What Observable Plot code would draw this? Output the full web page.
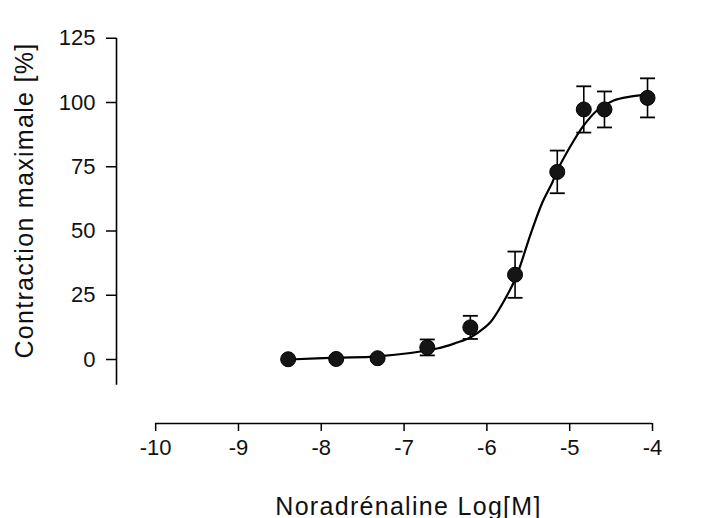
<!DOCTYPE html>
<html>
<head>
<meta charset="utf-8">
<script src="https://cdn.jsdelivr.net/npm/d3@7"></script>
<script src="https://cdn.jsdelivr.net/npm/@observablehq/plot@0.6"></script>
<style>
  html, body { margin: 0; padding: 0; background: #fff; }
  #chart svg { font-family: "Liberation Sans", Arial, sans-serif; }
  #chart svg g[aria-label="text"] text { letter-spacing: 1.3px; }
</style>
</head>
<body>
<div id="chart"></div>
<script>
// ---- data ----
const xTicks = [-10, -9, -8, -7, -6, -5, -4];
const yTicks = [0, 25, 50, 75, 100, 125];
const xLabel = "Noradrénaline Log[M]";
const yLabel = "Contraction maximale [%]";

// measured points (log concentration, % of max contraction, error)
const logConc     = [-8.40, -7.82, -7.32, -6.72, -6.20, -5.66, -5.15, -4.83, -4.58, -4.06];
const contraction = [0.1,   0.2,   0.5,   4.7,   12.5,  33.0,  73.0,  97.3,  97.3,  101.8];
const errorBar    = [0,     0,     0,     3.1,   4.5,   9.0,   8.3,   9.0,   7.0,   7.6];

// fitted curve
const curveX = [-8.39, -7.81, -7.32, -6.60, -6.36, -6.20, -6.04, -5.95, -5.77, -5.64, -5.47, -5.33, -5.21, -5.15, -4.95, -4.83, -4.67, -4.47, -4.27, -4.06];
const curveY = [0.0,   0.7,   1.2,   4.3,   6.6,   8.6,   12.1,  14.8,  24.1,  32.7,  49.0,  61.1,  68.9,  73.5,  85.2,  91.1,  96.9,  100.8, 102.3, 103.1];

// axis extents
const xDomain = [-10.473, -4];
const yDomain = [-24.9, 126.85];
const xAxisExtent = [-10, -4];
const yAxisExtent = [-10, 125];

const points = logConc.map((x, i) => ({x, y: contraction[i], e: errorBar[i]}));
const fit = curveX.map((x, i) => ({x, y: curveY[i]}));
const bars = points.filter(d => d.e > 0);

const capSymbol = {
  draw(context, size) {
    const h = Math.sqrt(size / Math.PI);
    context.moveTo(-h, 0);
    context.lineTo(h, 0);
  }
};

const chart = Plot.plot({
  width: 712,
  height: 518,
  marginLeft: 116,
  marginRight: 60,
  marginTop: 33,
  marginBottom: 95,
  x: {domain: xDomain},
  y: {domain: yDomain},
  marks: [
    Plot.ruleX([xDomain[0]], {y1: yAxisExtent[0], y2: yAxisExtent[1], stroke: "#000", strokeWidth: 1.6}),
    Plot.ruleY([yDomain[0]], {x1: xAxisExtent[0], x2: xAxisExtent[1], stroke: "#000", strokeWidth: 1.6}),
    Plot.axisY(yTicks, {anchor: "left", tickSize: 10, tickPadding: 11, fontSize: 22, label: null, strokeWidth: 1.5, tickFormat: d => String(d), fill: "#111"}),
    Plot.axisX(xTicks, {anchor: "bottom", tickSize: 8, tickPadding: 8, fontSize: 22, label: null, strokeWidth: 1.5, tickFormat: d => String(d), fill: "#111"}),
    Plot.text([yLabel], {frameAnchor: "left", textAnchor: "middle", rotate: -90, dx: -92, dy: -28, fontSize: 25, fill: "#111", lineAnchor: "middle"}),
    Plot.text([xLabel], {frameAnchor: "bottom", textAnchor: "middle", dx: 24, dy: 83, fontSize: 25, fill: "#111", lineAnchor: "middle"}),
    Plot.line(fit, {x: "x", y: "y", curve: "catmull-rom", stroke: "#000", strokeWidth: 2.2}),
    Plot.ruleX(bars, {x: "x", y1: d => d.y - d.e, y2: d => d.y + d.e, stroke: "#000", strokeWidth: 1.6}),
    Plot.dot(bars, {x: "x", y: d => d.y + d.e, symbol: capSymbol, r: 7.5, stroke: "#000", strokeWidth: 1.8}),
    Plot.dot(bars, {x: "x", y: d => d.y - d.e, symbol: capSymbol, r: 7.5, stroke: "#000", strokeWidth: 1.8}),
    Plot.dot(points, {x: "x", y: "y", r: 7.5, fill: "#151515", stroke: "#000", strokeWidth: 1})
  ]
});
document.getElementById("chart").appendChild(chart);
</script>
</body>
</html>
